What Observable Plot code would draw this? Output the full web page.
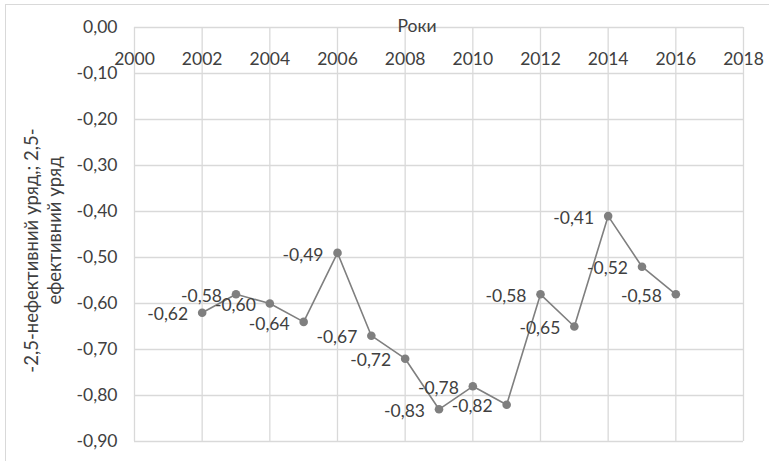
<!DOCTYPE html>
<html>
<head>
<meta charset="utf-8">
<script src="https://cdn.jsdelivr.net/npm/d3@7"></script>
<script src="https://cdn.jsdelivr.net/npm/@observablehq/plot@0.6"></script>
<style>
  html, body { margin: 0; padding: 0; background: #fff; }
  #wrap { position: relative; width: 769px; height: 461px; overflow: hidden; }
  #border { position: absolute; left: 5px; top: 4px; width: 800px; height: 500px; border-left: 1.5px solid #d9d9d9; border-top: 1.5px solid #d9d9d9; pointer-events: none; }
</style>
</head>
<body>
<div id="wrap"><div id="border"></div></div>
<script>
const years = [2002, 2003, 2004, 2005, 2006, 2007, 2008, 2009, 2010, 2011, 2012, 2013, 2014, 2015, 2016];
const values = [-0.62, -0.58, -0.60, -0.64, -0.49, -0.67, -0.72, -0.83, -0.78, -0.82, -0.58, -0.65, -0.41, -0.52, -0.58];
const xTicks = [2000, 2002, 2004, 2006, 2008, 2010, 2012, 2014, 2016, 2018];
const yTicks = [0, -0.1, -0.2, -0.3, -0.4, -0.5, -0.6, -0.7, -0.8, -0.9];
const xTitle = "Роки";
const yTitleLine1 = "-2,5-нефективний уряд,; 2,5-";
const yTitleLine2 = "ефективний уряд";

const data = years.map((year, i) => ({year, value: values[i]}));
const fmt = d => d.toFixed(2).replace(".", ",");
const gridColor = "#d9d9d9";
const textColor = "#404040";
const seriesColor = "#7f7f7f";

const chart = Plot.plot({
  width: 769,
  height: 461,
  marginLeft: 134,
  marginRight: 26,
  marginTop: 27,
  marginBottom: 20,
  style: {fontFamily: "Lato", fontSize: "17.5px", color: textColor, background: "transparent"},
  x: {domain: [2000, 2018]},
  y: {domain: [-0.9, 0]},
  marks: [
    Plot.gridX(xTicks, {stroke: gridColor, strokeOpacity: 1, strokeWidth: 1.3}),
    Plot.gridY(yTicks, {stroke: gridColor, strokeOpacity: 1, strokeWidth: 1.3}),
    Plot.axisX(xTicks, {anchor: "top", tickSize: 0, tickFormat: d => String(d), dy: 46, fill: textColor, label: null}),
    Plot.axisY(yTicks, {anchor: "left", tickSize: 0, tickPadding: 17, tickFormat: fmt, fill: textColor, label: null}),
    Plot.line(data, {x: "year", y: "value", stroke: seriesColor, strokeWidth: 1.6}),
    Plot.dot(data, {x: "year", y: "value", r: 4.3, fill: seriesColor, stroke: "none"}),
    Plot.text(data, {x: "year", y: "value", text: d => fmt(d.value), textAnchor: "end", dx: -14, dy: 2, fill: textColor}),
    Plot.text([xTitle], {frameAnchor: "top", dx: -22, dy: -1, lineAnchor: "middle", fill: textColor}),
    Plot.text([yTitleLine1], {frameAnchor: "left", rotate: -90, dx: -102, dy: 16, lineAnchor: "middle", textAnchor: "middle", fill: textColor, fontSize: 18.5}),
    Plot.text([yTitleLine2], {frameAnchor: "left", rotate: -90, dx: -79, dy: -4, lineAnchor: "middle", textAnchor: "middle", fill: textColor, fontSize: 18.5})
  ]
});
document.getElementById("wrap").prepend(chart);
</script>
</body>
</html>
